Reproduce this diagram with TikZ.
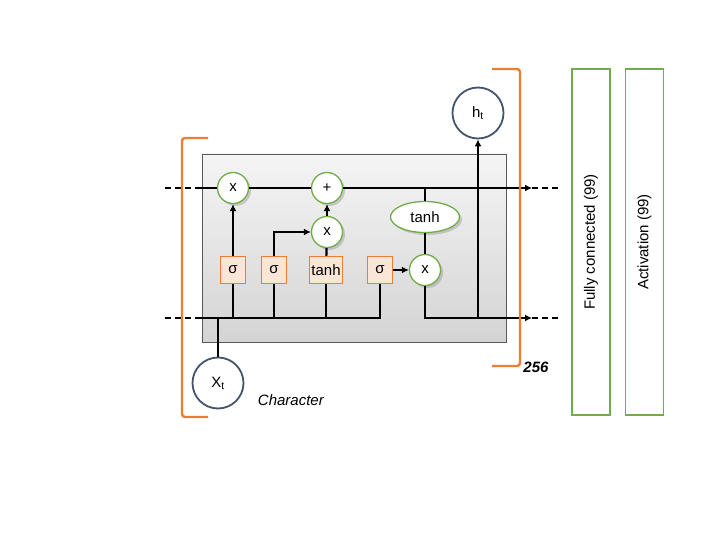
\documentclass[tikz,border=0pt]{standalone}
\usepackage{fontspec}
\setmainfont{Liberation Sans}
\usetikzlibrary{arrows.meta, positioning, shapes.geometric, shadows}
\definecolor{braceorange}{HTML}{ED7D31}
\definecolor{gatefill}{HTML}{FBE5D6}
\definecolor{opgreen}{HTML}{70AD47}
\definecolor{iodark}{HTML}{44546A}
\tikzstyle{txt} = [font=\fontsize{15}{18}\selectfont]
\tikzstyle{op} = [draw=opgreen, fill=white, circle, minimum size=31pt, inner sep=0pt, line width=1.3pt, txt, drop shadow={opacity=0.35, shadow xshift=2.5pt, shadow yshift=-2.5pt}]
\tikzstyle{squash} = [op, ellipse, minimum width=69pt, minimum height=31pt]
\tikzstyle{gate} = [draw=braceorange, fill=gatefill, rectangle, minimum width=25pt, minimum height=27pt, inner sep=2pt, line width=1.3pt, txt]
\tikzstyle{io} = [draw=iodark, fill=white, circle, minimum size=51pt, inner sep=0pt, line width=1.8pt, txt]
\tikzstyle{path} = [-{Latex[length=7pt, width=7pt]}, line width=2.2pt]
\tikzstyle{wire} = [line width=2.2pt]
\tikzstyle{stub} = [line width=2.2pt, dash pattern=on 6pt off 4pt]
\tikzstyle{bracket} = [draw=braceorange, line width=2.4pt, rounded corners=3pt]
\tikzstyle{layer} = [draw=opgreen, line width=1.3pt, rotate=90, minimum width=346pt, minimum height=38pt, txt]

\begin{document}
\begin{tikzpicture}[x=1pt, y=-1pt]
    \useasboundingbox (0,0) rectangle (720,540);

    % Cell.
    \draw [draw=black!65, top color=black!4, bottom color=black!17] (202,154) rectangle (506,342);

    \node (mult f) [op] at (233,188) {x};
    \node (add) [op] at (327,188) {+};
    \node (mult i) [op] at (327,232) {x};
    \node (tanh c) [squash] at (425,217) {tanh};
    \node (mult o) [op] at (425,270) {x};
    \node (sig f) [gate] at (233,270) {σ};
    \node (sig i) [gate] at (274,270) {σ};
    \node (tanh g) [gate] at (326,270) {tanh};
    \node (sig o) [gate] at (380,270) {σ};
    \node (xt) [io] at (218,383) {X\textsubscript{t}};
    \node (ht) [io] at (478,113) {h\textsubscript{t}};
    \node (char) [txt, font=\fontsize{15}{18}\selectfont\itshape, right=10pt of xt, yshift=-17pt] {Character};

    \coordinate (top l) at (165,188);
    \coordinate (top in) at (197,188);
    \coordinate (top out) at (532,188);
    \coordinate (top r) at (558,188);
    \coordinate (bot l) at (165,318);
    \coordinate (bot in) at (197,318);
    \coordinate (bot out) at (532,318);
    \coordinate (bot r) at (558,318);

    % Arrows.
    \draw [stub] (top l) -- (top in);
    \draw [wire] (top in) -- (mult f) -- (add);
    \draw [path] (add) -- (top out);
    \draw [stub] (top out) -- (top r);
    \draw [stub] (bot l) -- (bot in);
    \draw [wire] (bot in) -| (sig o);
    \draw [wire] (xt) -- (xt |- bot in);
    \draw [wire] (sig f |- bot in) -- (sig f);
    \draw [wire] (sig i |- bot in) -- (sig i);
    \draw [wire] (tanh g |- bot in) -- (tanh g);
    \draw [path] (sig f) -- (mult f);
    \draw [path] (sig i) |- (mult i);
    \draw [wire] (tanh g) -- (mult i);
    \draw [path] (mult i) -- (add);
    \draw [path] (sig o) -- (mult o);
    \draw [wire] (tanh c) -- (tanh c |- top in);
    \draw [wire] (tanh c) -- (mult o);
    \draw [path] (mult o) |- (bot out);
    \draw [stub] (bot out) -- (bot r);
    \draw [path] (ht |- bot out) -- (ht);

    % Layers.
    \draw [bracket] (208,138) -- (182,138) -- (182,417) -- (208,417);
    \draw [bracket] (492,69) -- (520,69) -- (520,366) -- (492,366);
    \node (units) [font=\fontsize{15}{18}\selectfont\bfseries\itshape] at (536,367) {256};
    \node (fc) [layer] at (591,242) {Fully connected (99)};
    \node (act) [layer] at (644.5,242) {Activation (99)};
\end{tikzpicture}
\end{document}
